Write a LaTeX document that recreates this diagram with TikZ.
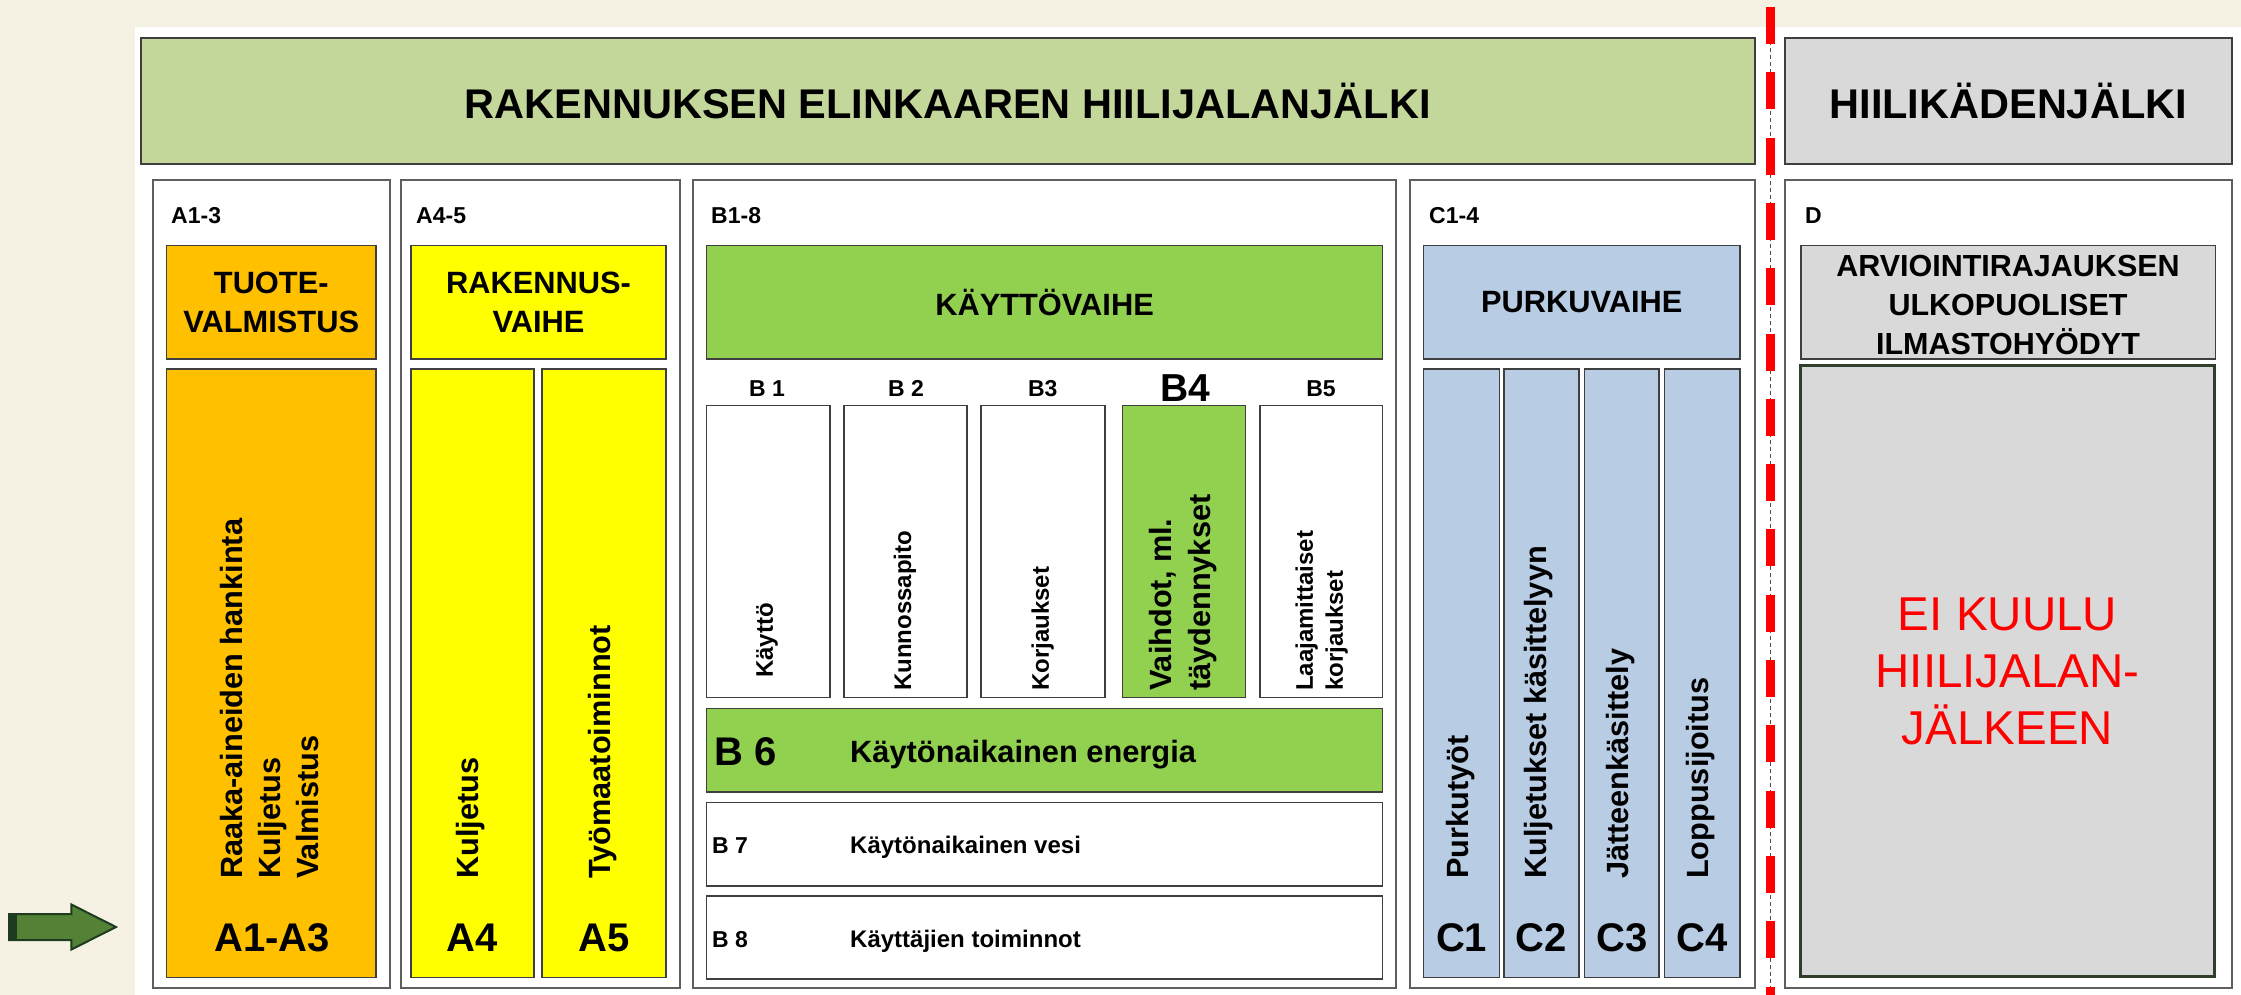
\documentclass[tikz,border=0pt]{standalone}
\usepackage{fontspec}
\setmainfont{Liberation Sans}
\usetikzlibrary{fit}
\definecolor{cream}{HTML}{F5F2E4}
\definecolor{titlegreen}{HTML}{C4D79B}
\definecolor{greyfill}{HTML}{D9D9D9}
\definecolor{orangefill}{HTML}{FFC000}
\definecolor{yellowfill}{HTML}{FFFF00}
\definecolor{greenfill}{HTML}{92D050}
\definecolor{bluefill}{HTML}{B8CCE4}
\definecolor{arrowgreen}{HTML}{538135}
\definecolor{arrowdark}{HTML}{1F3B1F}
\definecolor{eired}{HTML}{FF0000}
\definecolor{boxline}{HTML}{3F3F3F}
\definecolor{outerline}{HTML}{5F5F5F}
\definecolor{eiline}{HTML}{2F3F2A}
\newcommand\bx[6]{\node[#1, fit={(#3,#4) (#5,#6)}, inner sep=0pt, outer sep=0pt] (#2) {};}
\begin{document}
\begin{tikzpicture}[x=1pt,y=-1pt,
  outerbox/.style={draw=outerline, line width=2pt, fill=white},
  inbox/.style={draw=boxline, line width=1.6pt},
  headbox/.style={draw=boxline, line width=2.2pt},
  t23/.style={font=\fontsize{23}{28}\selectfont\bfseries, inner sep=0pt, text height=16.5pt, text depth=0pt},
  t24/.style={font=\fontsize{24}{29}\selectfont\bfseries, inner sep=0pt, text height=17.2pt, text depth=0pt},
  t31/.style={font=\fontsize{30.8}{38.7}\selectfont\bfseries, inner sep=0pt, align=center},
  t31c/.style={font=\fontsize{30.8}{38}\selectfont\bfseries, inner sep=0pt, text height=22pt, text depth=0pt},
  t39/.style={font=\fontsize{39}{46}\selectfont\bfseries, inner sep=0pt, text height=27.9pt, text depth=0pt},
  t40/.style={font=\fontsize{40}{48}\selectfont\bfseries, inner sep=0pt, text height=28.6pt, text depth=0pt},
  t41/.style={font=\fontsize{41.5}{50}\selectfont\bfseries, inner sep=0pt},
  vt31/.style={font=\fontsize{30.7}{38}\selectfont\bfseries, inner sep=0pt, rotate=90, anchor=west, align=left},
  vt24/.style={font=\fontsize{24}{30}\selectfont\bfseries, inner sep=0pt, rotate=90, anchor=west, align=left},
  eitext/.style={font=\fontsize{47.5}{57}\selectfont, text=eired, inner sep=0pt, align=center}
]
\useasboundingbox (0,0) rectangle (2241,995);
\fill[cream] (0,0) rectangle (2241,995);
\fill[white] (134.8,27.3) rectangle (2241,995);

% arrow
\filldraw[fill=arrowgreen, draw=arrowdark, line width=2pt, line join=miter] (9,914) -- (71.4,914) -- (71.4,904.5) -- (116,927) -- (71.4,949.5) -- (71.4,940) -- (9,940) -- cycle;
\fill[arrowdark] (8,913) rectangle (16.5,941);

% title boxes
\bx{headbox, fill=titlegreen}{title}{140.6}{37.7}{1754.7}{164.3}
\node[t41] (titletext) at (title.center) {RAKENNUKSEN ELINKAAREN HIILIJALANJÄLKI};
\bx{headbox, fill=greyfill}{hand}{1784.6}{37.7}{2231.8}{164.3}
\node[t41] (handtext) at (hand.center) {HIILIKÄDENJÄLKI};

% outer columns
\bx{outerbox}{colA13}{152.7}{180.3}{389.7}{987.5}
\bx{outerbox}{colA45}{401}{180.3}{679.5}{987.5}
\bx{outerbox}{colB}{692.9}{180.3}{1396}{987.5}
\bx{outerbox}{colC}{1410}{180.3}{1754.7}{987.5}
\bx{outerbox}{colD}{1784.6}{180.3}{2231.8}{987.5}

\node[t23, anchor=west] (lA13) at (171,215) {A1-3};
\node[t23, anchor=west] (lA45) at (416,215) {A4-5};
\node[t23, anchor=west] (lB) at (711,215) {B1-8};
\node[t23, anchor=west] (lC) at (1429,215) {C1-4};
\node[t23, anchor=west] (lD) at (1805,215) {D};

% A section
\bx{inbox, fill=orangefill}{tuote}{166.5}{245.7}{376}{359}
\node[t31] (tuotetext) at (tuote.center) {TUOTE-\\VALMISTUS};
\bx{inbox, fill=yellowfill}{rakv}{411}{245.7}{666}{359}
\node[t31] (rakvtext) at (rakv.center) {RAKENNUS-\\VAIHE};
\bx{inbox, fill=orangefill}{a13}{166.5}{368.7}{376}{977.6}
\bx{inbox, fill=yellowfill}{a4}{411}{368.7}{534}{977.6}
\bx{inbox, fill=yellowfill}{a5}{542}{368.7}{666}{977.6}
\node[vt31] (a13t) at (270,879) {Raaka-aineiden hankinta\\Kuljetus\\Valmistus};
\node[vt31] (a4t) at (471,879) {Kuljetus};
\node[vt31] (a5t) at (603,879) {Työmaatoiminnot};
\node[t40] (a13l) at (272,937) {A1-A3};
\node[t40] (a4l) at (472.5,937) {A4};
\node[t40] (a5l) at (604,937) {A5};

% B section
\bx{inbox, fill=greenfill}{kaytto}{706.6}{245.7}{1382.5}{359}
\node[t31] (kayttotext) at (kaytto.center) {KÄYTTÖVAIHE};
\node[t23] (lb1) at (767,388) {B 1};
\node[t23] (lb2) at (906,388) {B 2};
\node[t23] (lb3) at (1042.7,388) {B3};
\node[t39] (lb4) at (1185,388) {B4};
\node[t23] (lb5) at (1321,388) {B5};
\bx{inbox, fill=white}{b1}{706.6}{405.4}{829.7}{697.4}
\bx{inbox, fill=white}{b2}{844}{405.4}{967}{697.4}
\bx{inbox, fill=white}{b3}{981}{405.4}{1104.7}{697.4}
\bx{inbox, fill=greenfill}{b4}{1122.6}{405.4}{1245.6}{697.4}
\bx{inbox, fill=white}{b5}{1260}{405.4}{1382.5}{697.4}
\node[vt24] (b1t) at (767,678) {Käyttö};
\node[vt24] (b2t) at (905,691) {Kunnossapito};
\node[vt24] (b3t) at (1042.7,691) {Korjaukset};
\node[vt31, font=\fontsize{30.7}{39}\selectfont\bfseries] (b4t) at (1183.5,691) {Vaihdot, ml.\\täydennykset};
\node[vt24] (b5t) at (1321.6,691) {Laajamittaiset\\korjaukset};
\bx{inbox, fill=greenfill}{b6}{706.6}{708.5}{1382.5}{792.2}
\node[t40, anchor=west] (b6l) at (714.4,751) {B 6};
\node[t31c, anchor=west] (b6t) at (850,751) {Käytönaikainen energia};
\bx{inbox, fill=white}{b7}{706.6}{802.3}{1382.5}{886}
\node[t23, anchor=west] (b7l) at (712,845) {B 7};
\node[t24, anchor=west] (b7t) at (850,845) {Käytönaikainen vesi};
\bx{inbox, fill=white}{b8}{706.6}{896}{1382.5}{979.2}
\node[t23, anchor=west] (b8l) at (712,939) {B 8};
\node[t24, anchor=west] (b8t) at (850,939) {Käyttäjien toiminnot};

% C section
\bx{inbox, fill=bluefill}{purku}{1423.6}{245.7}{1740}{359}
\node[t31] (purkutext) at (purku.center) {PURKUVAIHE};
\bx{inbox, fill=bluefill}{c1}{1423.6}{368.7}{1499.6}{977.6}
\bx{inbox, fill=bluefill}{c2}{1504}{368.7}{1578.9}{977.6}
\bx{inbox, fill=bluefill}{c3}{1584.3}{368.7}{1659.2}{977.6}
\bx{inbox, fill=bluefill}{c4}{1664.6}{368.7}{1740}{977.6}
\node[vt31] (c1t) at (1460.6,879) {Purkutyöt};
\node[vt31] (c2t) at (1539,879) {Kuljetukset käsittelyyn};
\node[vt31] (c3t) at (1620.7,879) {Jätteenkäsittely};
\node[vt31] (c4t) at (1700.4,879) {Loppusijoitus};
\node[t40] (c1l) at (1461.6,937) {C1};
\node[t40] (c2l) at (1541.5,937) {C2};
\node[t40] (c3l) at (1621.8,937) {C3};
\node[t40] (c4l) at (1702.3,937) {C4};

% D section
\bx{inbox, fill=greyfill}{arvi}{1800.9}{245.7}{2215.5}{359}
\node[t31, font=\fontsize{30.5}{38.8}\selectfont\bfseries] (arvitext) at (2008,305) {ARVIOINTIRAJAUKSEN\\ULKOPUOLISET\\ILMASTOHYÖDYT};
\bx{draw=eiline, line width=3pt, fill=greyfill}{eibox}{1800.9}{365}{2214}{976.9}
\node[eitext] (eitxt) at (2007.5,671) {EI KUULU\\HIILIJALAN-\\JÄLKEEN};

% dashed boundary
\coordinate (rtop) at (1770.5,7);
\coordinate (rthin) at (1770.5,27.3);
\coordinate (rbot) at (1770.5,995);
\draw[black!70, line width=1pt, dash pattern=on 4pt off 3pt] (rthin) -- (rbot);
\draw[eired, line width=9pt, dash pattern=on 37pt off 28.3pt] (rtop) -- (rbot);
\end{tikzpicture}
\end{document}
